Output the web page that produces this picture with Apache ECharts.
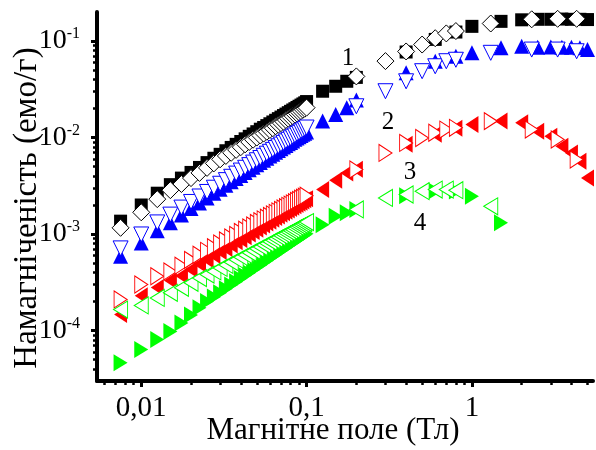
<!DOCTYPE html>
<html>
<head>
<meta charset="utf-8">
<script src="https://cdn.jsdelivr.net/npm/echarts@6/dist/echarts.min.js"></script>
<style>
  html, body { margin: 0; padding: 0; background: #fff; }
  #chart { width: 596px; height: 450px; }
</style>
</head>
<body>
<div id="chart"></div>
<script>
// magnetic field values (Tl)
const fieldLow = [0.0075, 0.01, 0.0125, 0.015, 0.0175, 0.02, 0.0225, 0.025, 0.0275, 0.03,
  0.0325, 0.035, 0.0375, 0.04, 0.0425, 0.045, 0.0475, 0.05, 0.0525, 0.055,
  0.0575, 0.06, 0.0625, 0.065, 0.0675, 0.07, 0.0725, 0.075, 0.0775, 0.08,
  0.0825, 0.085, 0.0875, 0.09, 0.0925, 0.095, 0.0975, 0.1]
const fieldFilledHigh = [0.125, 0.15, 0.175, 0.2, 0.4, 0.6, 0.8, 1, 1.5, 2, 2.5, 3, 3.5, 4, 4.5, 5]
const fieldOpenHigh = [0.2, 0.3, 0.4, 0.5, 0.6, 0.7, 0.8, 1.3, 2.3, 3.3, 4.3]

// 1 - black
const blackFilledLow = [0.00136, 0.002, 0.00265, 0.00325, 0.0038, 0.00435, 0.0049, 0.0055, 0.0061, 0.0067,
  0.0073, 0.0079, 0.0085, 0.0091, 0.0097, 0.0103, 0.0109, 0.0115, 0.0122, 0.0127,
  0.0133, 0.0139, 0.0145, 0.0151, 0.0157, 0.0163, 0.0169, 0.0175, 0.0181, 0.0187,
  0.0193, 0.0199, 0.0205, 0.0211, 0.0217, 0.0223, 0.0229, 0.0236]
const blackFilledHigh = [0.0302, 0.034, 0.0383, 0.042, 0.077, 0.104, 0.124, 0.142, 0.16, 0.166, 0.168, 0.168, 0.169, 0.168, 0.168, 0.167]
const blackOpenLow = [0.00116, 0.00168, 0.0023, 0.00285, 0.0033, 0.0038, 0.0043, 0.00485, 0.0054, 0.00595,
  0.00645, 0.00695, 0.00745, 0.00795, 0.0085, 0.009, 0.0095, 0.01, 0.0105, 0.011,
  0.0115, 0.012, 0.0125, 0.0131, 0.0136, 0.0141, 0.0146, 0.0152, 0.0157, 0.0162,
  0.0167, 0.0173, 0.0178, 0.0183, 0.0188, 0.0194, 0.0199, 0.0204]
const blackOpenHigh = [0.043, 0.062, 0.078, 0.092, 0.107, 0.12, 0.127, 0.152, 0.168, 0.17, 0.17]

// 2 - blue
const blueFilledLow = [0.00059, 0.00081, 0.00108, 0.00131, 0.00158, 0.00184, 0.0021, 0.00237, 0.00264, 0.00292,
  0.0032, 0.00348, 0.00376, 0.00405, 0.00434, 0.00463, 0.00492, 0.00522, 0.00552, 0.00582,
  0.00612, 0.00642, 0.00673, 0.00704, 0.00735, 0.00766, 0.00797, 0.00828, 0.0086, 0.0089,
  0.0092, 0.0096, 0.0099, 0.0102, 0.0105, 0.0108, 0.0111, 0.0114]
const blueFilledHigh = [0.0148, 0.0173, 0.0203, 0.0245, 0.0468, 0.0618, 0.0697, 0.0755, 0.085, 0.0883, 0.086, 0.087, 0.086, 0.086, 0.085, 0.0816]
const blueOpenLow = [0.00071, 0.00099, 0.00132, 0.00159, 0.00188, 0.00215, 0.00245, 0.00273, 0.00302, 0.00332,
  0.00362, 0.00392, 0.00423, 0.00455, 0.00486, 0.00518, 0.0055, 0.00582, 0.00614, 0.00647,
  0.0068, 0.00712, 0.00745, 0.00779, 0.00812, 0.00846, 0.0088, 0.00914, 0.00948, 0.00982,
  0.0102, 0.0105, 0.0109, 0.0112, 0.0116, 0.0119, 0.0123, 0.0127]
const blueOpenHigh = [0.0211, 0.0302, 0.0383, 0.0487, 0.0548, 0.0618, 0.064, 0.0755, 0.0816, 0.0816, 0.0784]

// 3 - red
const redFilledLow = [0.000147, 0.00023, 0.000279, 0.00033, 0.00037, 0.00043, 0.00049, 0.00054, 0.0006, 0.00066,
  0.00071, 0.00077, 0.00083, 0.00088, 0.00094, 0.001, 0.00106, 0.00112, 0.00118, 0.00124,
  0.0013, 0.00136, 0.00142, 0.00148, 0.00154, 0.0016, 0.00166, 0.00172, 0.00178, 0.00184,
  0.0019, 0.00196, 0.00202, 0.00208, 0.00214, 0.0022, 0.00226, 0.00232]
const redFilledHigh = [0.00289, 0.0036, 0.0043, 0.0047, 0.0085, 0.0108, 0.0125, 0.01365, 0.0148, 0.0142, 0.0116, 0.0103, 0.00813, 0.00693, 0.00568, 0.00382]
const redOpenLow = [0.00021, 0.0003, 0.000365, 0.00041, 0.00047, 0.00054, 0.00061, 0.00067, 0.00073, 0.0008,
  0.00086, 0.00092, 0.00098, 0.00105, 0.00111, 0.00117, 0.00123, 0.0013, 0.00136, 0.00142,
  0.00148, 0.00154, 0.0016, 0.00166, 0.00172, 0.00178, 0.00184, 0.0019, 0.00196, 0.00202,
  0.00208, 0.00214, 0.0022, 0.00226, 0.00232, 0.00238, 0.00244, 0.0025]
const redOpenHigh = [0.00467, 0.00693, 0.0088, 0.0099, 0.0112, 0.0121, 0.0126, 0.0148, 0.0121, 0.00955, 0.00592]

// 4 - green
const greenFilledLow = [0.0000463, 0.0000635, 0.0000807, 0.000098, 0.00012, 0.000145, 0.000172, 0.0002, 0.000223, 0.000247,
  0.000271, 0.000296, 0.000321, 0.000346, 0.000372, 0.000398, 0.000424, 0.00045, 0.000476, 0.000503,
  0.00053, 0.000557, 0.000584, 0.000611, 0.000639, 0.000666, 0.000694, 0.000722, 0.00075, 0.000778,
  0.000806, 0.000835, 0.000863, 0.000892, 0.00092, 0.00095, 0.00098, 0.00101]
const greenFilledHigh = [0.00125, 0.00153, 0.00166, 0.0018, 0.0025, 0.0028, 0.0028, 0.00247, 0.00131]
const greenOpenLow = [0.000165, 0.000182, 0.000218, 0.000246, 0.000277, 0.000312, 0.00035, 0.00038, 0.00041, 0.000445,
  0.000478, 0.00051, 0.000543, 0.000576, 0.000608, 0.00064, 0.000672, 0.000704, 0.000736, 0.000768,
  0.0008, 0.000832, 0.000864, 0.000895, 0.000927, 0.000958, 0.00099, 0.00102, 0.00105, 0.00108,
  0.00111, 0.00115, 0.00118, 0.00121, 0.00124, 0.00127, 0.0013, 0.00133]
const greenOpenHigh = [0.0018, 0.00237, 0.00257, 0.00278, 0.00289, 0.00289, 0.00285, 0.00194]

// axes
const X_MIN = 0.0054, X_MAX = 5.4
const Y_MIN = 3e-5, Y_MAX = 0.2
const xMajor = [0.01, 0.1, 1]
const xMinor = [0.006, 0.007, 0.008, 0.009, 0.02, 0.03, 0.04, 0.05, 0.06, 0.07, 0.08, 0.09,
  0.2, 0.3, 0.4, 0.5, 0.6, 0.7, 0.8, 0.9, 2, 3, 4, 5]
const yMajor = [1e-4, 1e-3, 1e-2, 1e-1]
const yMinor = [4e-5, 5e-5, 6e-5, 7e-5, 8e-5, 9e-5, 2e-4, 3e-4, 4e-4, 5e-4, 6e-4, 7e-4, 8e-4, 9e-4,
  2e-3, 3e-3, 4e-3, 5e-3, 6e-3, 7e-3, 8e-3, 9e-3, 2e-2, 3e-2, 4e-2, 5e-2, 6e-2, 7e-2, 8e-2, 9e-2]

const FONT = 'Liberation Serif'

const pts = (xs, ys) => ys.map((y, i) => [xs[i], y])
const lg = arr => arr.map(v => Math.log10(v))

const isPow10 = v => Math.abs(Math.log10(v) - Math.round(Math.log10(v))) < 1e-6

const filled = (name, color, symbol, size, rotate, low, high) => ({
  name, type: 'scatter', symbol, symbolSize: size, symbolRotate: rotate,
  itemStyle: { color, borderWidth: 0, opacity: 1 },
  data: pts(fieldLow, low).concat(pts(fieldFilledHigh, high))
})
const open = (name, color, symbol, size, rotate, low, high) => ({
  name, type: 'scatter', symbol, symbolSize: size, symbolRotate: rotate,
  itemStyle: { color: '#fff', borderColor: color, borderWidth: 1, opacity: 1 },
  data: pts(fieldLow, low).concat(pts(fieldOpenHigh, high))
})

// overlay axes only carry the log-style tick marks
const tickAxis = (isX, values, len, width) => ({
  type: 'value',
  position: isX ? 'bottom' : 'left',
  min: Math.log10(isX ? X_MIN : Y_MIN),
  max: Math.log10(isX ? X_MAX : Y_MAX),
  axisLine: { show: false, onZero: false },
  axisLabel: { show: false },
  splitLine: { show: false },
  axisTick: { show: true, customValues: lg(values), length: len, lineStyle: { color: '#000', width } }
})

const chart = echarts.init(document.getElementById('chart'))

chart.setOption({
  animation: false,
  backgroundColor: '#fff',
  grid: { left: 97, right: 3, top: 12, bottom: 69 },
  xAxis: [
    {
      type: 'log', min: X_MIN, max: X_MAX,
      axisLine: { onZero: false, lineStyle: { color: '#000', width: 4 } },
      axisTick: { show: false },
      splitLine: { show: false },
      axisLabel: {
        margin: 13, color: '#000', fontFamily: FONT, fontSize: 29,
        showMinLabel: false, showMaxLabel: false,
        formatter: v => {
          if (!isPow10(v)) return ''
          const e = Math.round(Math.log10(v))
          return e < 0 ? '0,' + '0'.repeat(-e - 1) + '1' : '1' + '0'.repeat(e)
        }
      }
    },
    tickAxis(true, xMajor, 6, 3),
    tickAxis(true, xMinor, 4, 2.5)
  ],
  yAxis: [
    {
      type: 'log', min: Y_MIN, max: Y_MAX,
      axisLine: { onZero: false, lineStyle: { color: '#000', width: 4 } },
      axisTick: { show: false },
      splitLine: { show: false },
      axisLabel: {
        margin: 17, color: '#000',
        showMinLabel: false, showMaxLabel: false,
        formatter: v => isPow10(v) ? '{b|10}{s|' + Math.round(Math.log10(v)) + '}' : '',
        rich: {
          b: { fontFamily: FONT, fontSize: 28, lineHeight: 30, color: '#000' },
          s: { fontFamily: FONT, fontSize: 16, lineHeight: 16, verticalAlign: 'top', color: '#000' }
        }
      }
    },
    tickAxis(false, yMajor, 6, 3),
    tickAxis(false, yMinor, 4, 2.5)
  ],
  graphic: [
    { type: 'text', x: 333, y: 431, style: { text: 'Магнітне поле (Тл)', font: '31px "Liberation Serif"', fill: '#000', align: 'center', verticalAlign: 'middle' } },
    { type: 'text', x: 27, y: 208, rotation: Math.PI / 2, style: { text: 'Намагніченість (емо/г)', font: '33px "Liberation Serif"', fill: '#000', align: 'center', verticalAlign: 'middle' } },
    { type: 'text', x: 348, y: 58, z: 10, style: { text: '1', font: '25px "Liberation Serif"', fill: '#000', align: 'center', verticalAlign: 'middle' } },
    { type: 'text', x: 388, y: 122, z: 10, style: { text: '2', font: '25px "Liberation Serif"', fill: '#000', align: 'center', verticalAlign: 'middle' } },
    { type: 'text', x: 410, y: 172, z: 10, style: { text: '3', font: '25px "Liberation Serif"', fill: '#000', align: 'center', verticalAlign: 'middle' } },
    { type: 'text', x: 420, y: 223, z: 10, style: { text: '4', font: '25px "Liberation Serif"', fill: '#000', align: 'center', verticalAlign: 'middle' } }
  ],
  series: [
    filled('1 filled', '#000000', 'rect', 13, 0, blackFilledLow, blackFilledHigh),
    open('1 open', '#000000', 'diamond', [17, 17], 0, blackOpenLow, blackOpenHigh),
    filled('2 filled', '#0000ff', 'triangle', [15, 15], 0, blueFilledLow, blueFilledHigh),
    open('2 open', '#0000ff', 'triangle', [15, 15], 180, blueOpenLow, blueOpenHigh),
    filled('3 filled', '#ff0000', 'triangle', [17, 13], 90, redFilledLow, redFilledHigh),
    open('3 open', '#ff0000', 'triangle', [17, 13], -90, redOpenLow, redOpenHigh),
    filled('4 filled', '#00ff00', 'triangle', [17, 14], -90, greenFilledLow, greenFilledHigh),
    open('4 open', '#00ff00', 'triangle', [17, 14], 90, greenOpenLow, greenOpenHigh)
  ]
})
</script>
</body>
</html>
